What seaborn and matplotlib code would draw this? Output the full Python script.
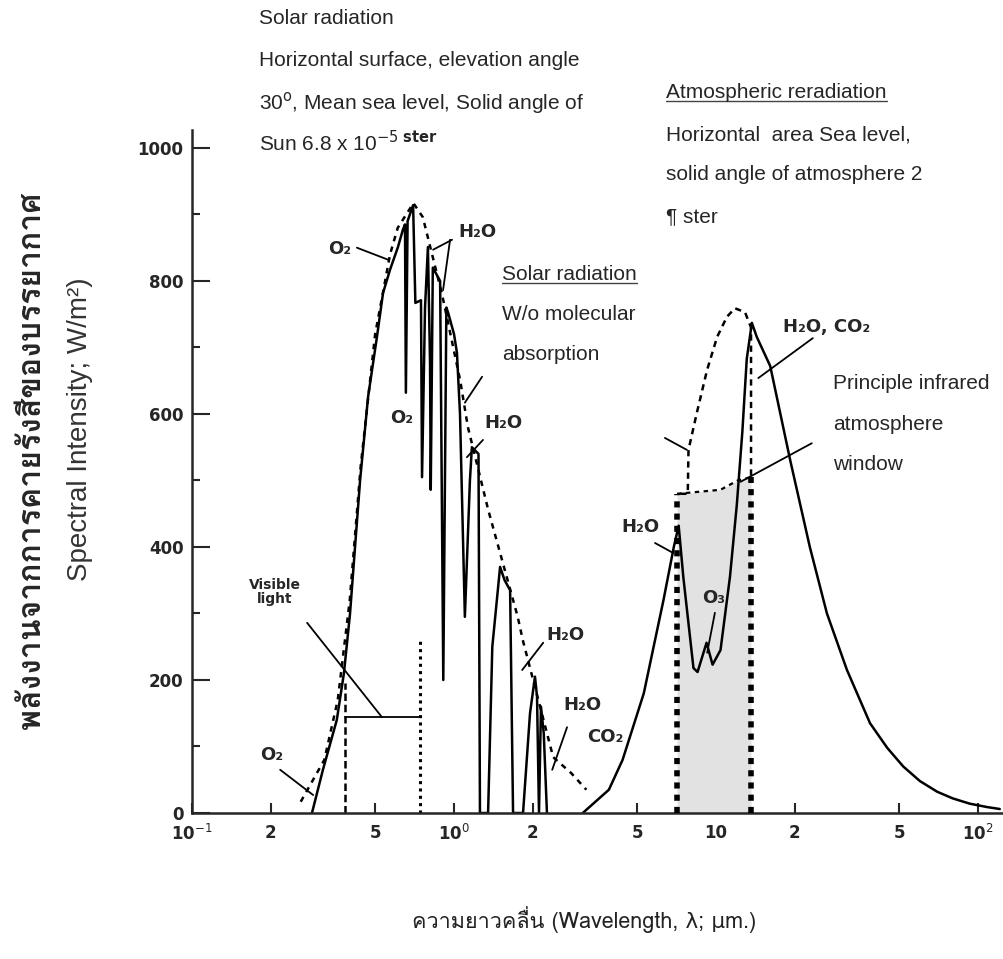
import matplotlib
matplotlib.use("Agg")
import matplotlib.pyplot as plt
import seaborn as sns
import pandas as pd
from matplotlib import font_manager, ft2font
from matplotlib.ticker import MultipleLocator, NullLocator
from matplotlib.lines import Line2D

# solar radiation reaching sea level (solid line), wavelength in um, W/m2
sun_wl = [0.287, 0.316, 0.357, 0.380, 0.401, 0.419, 0.438, 0.470, 0.508, 0.536,
          0.570, 0.611, 0.638, 0.650, 0.655, 0.665, 0.698, 0.712, 0.748, 0.755,
          0.775, 0.795, 0.81, 0.815, 0.83, 0.885, 0.91, 0.935, 0.95, 1.00,
          1.026, 1.054, 1.10, 1.15, 1.17, 1.24, 1.256, 1.349, 1.40, 1.499,
          1.56, 1.637, 1.68, 1.834, 1.95, 2.037, 2.074, 2.11, 2.147, 2.20, 2.263]
sun_val = [0, 65, 140, 210, 300, 400, 500, 626, 716, 782,
           817, 851, 877, 885, 632, 890, 914, 767, 771, 505,
           760, 851, 677, 486, 820, 800, 200, 760, 752, 720,
           692, 600, 295, 500, 550, 540, 0, 0, 250, 370,
           350, 335, 0, 0, 150, 205, 175, 0, 160, 120, 0]

# solar radiation without molecular absorption (dotted)
top_wl = [0.26, 0.32, 0.36, 0.40, 0.44, 0.50, 0.54, 0.57, 0.61, 0.70,
          0.76, 0.90, 1.055, 1.13, 1.35, 1.75, 1.83, 2.39, 2.8, 3.2]
top_val = [17, 80, 170, 320, 520, 720, 790, 840, 880, 917,
           896, 780, 651, 580, 456, 295, 260, 84, 60, 35]

# atmospheric reradiation (solid)
em_wl = [3.1, 3.9, 4.4, 5.3, 6.3, 6.9, 7.2, 7.5, 8.2, 8.5, 9.2, 9.7, 10.4, 11.3, 12.0,
         12.6, 13.1, 13.7, 14.3, 16.1, 19.2, 22.8, 26.5, 31.6, 38.7, 45, 51.8, 60,
         69.8, 80, 93, 108, 121]
em_val = [0, 35, 80, 180, 320, 400, 432, 355, 218, 212, 256, 223, 245, 355, 463,
          573, 683, 737, 716, 672, 530, 400, 300, 215, 135, 98, 70, 48,
          32, 22, 14, 9, 6]

# envelope without absorption (dashed)
env_wl = [7.3, 7.8, 7.85, 8.45, 9.24, 10.1, 11.0, 11.8, 12.9, 13.6, 13.6]
env_val = [480, 480, 546, 602, 666, 716, 746, 759, 753, 730, 505]

# infrared window
win_wl = [7.1, 10.4, 12.1, 13.6]
win_top = [480, 486, 500, 505]

# visible light band
vis_lo, vis_hi, vis_bar = 0.384, 0.741, 144
vis_lo_top, vis_hi_top = 195, 265

xticks = [0.1, 0.2, 0.5, 1, 2, 5, 10, 20, 50, 100]
xticklabels = ["10$^{-1}$", "2", "5", "10$^{0}$", "2", "5", "10", "2", "5", "10$^{2}$"]
yticks = [0, 200, 400, 600, 800, 1000]

chem_labels = [("O₂", 0.367, 848), ("H₂O", 1.225, 874), ("O₂", 0.634, 594),
               ("H₂O", 1.55, 586), ("H₂O", 2.67, 268), ("H₂O", 3.08, 162),
               ("CO₂", 3.77, 114), ("H₂O", 5.13, 430), ("O₃", 9.75, 323),
               ("O₂", 0.202, 87)]
leaders = [(0.426, 850, 0.560, 832), (0.983, 862, 0.832, 847), (0.966, 862, 0.908, 786),
           (1.28, 656, 1.10, 617), (1.29, 561, 1.12, 535), (2.19, 256, 1.82, 215),
           (2.70, 129, 2.37, 65), (5.85, 406, 6.86, 391), (9.9, 301, 9.25, 241),
           (23.4, 714, 14.5, 654), (23.2, 556, 12.4, 498), (6.38, 564, 7.74, 546),
           (0.275, 286, 0.531, 144), (0.217, 65, 0.29, 27)]

sns.set_theme(style="ticks")

# find a font that has Thai glyphs
thai = "DejaVu Sans"
for f in font_manager.fontManager.ttflist:
    if "CJK" in f.name:
        continue
    try:
        if 0x0E01 in ft2font.FT2Font(f.fname).get_charmap():
            thai = f.name
            break
    except Exception:
        pass

plt.rcParams["font.family"] = ["Liberation Sans", "DejaVu Sans"]
plt.rcParams["mathtext.fontset"] = "dejavusans"

fig = plt.figure(figsize=(10.04, 9.59), dpi=100)
ax = fig.add_axes([192 / 1004, 1 - 813 / 959, 1 - 192 / 1004, (813 - 130) / 959])

# shaded window
ax.fill_between(win_wl, 0, win_top, color="#e2e2e2", lw=0, zorder=1)
sns.lineplot(x=win_wl, y=win_top, ax=ax, color="black", lw=1.6, sort=False,
             estimator=None, zorder=3).lines[-1].set_linestyle((0, (2, 2)))
for w, t in [(win_wl[0], win_top[0]), (win_wl[-1], win_top[-1])]:
    ax.plot([w, w], [0, t], color="black", lw=4, ls=(0, (1.1, 1.1)), zorder=3)

sns.lineplot(x=sun_wl, y=sun_val, ax=ax, color="black", lw=1.8, sort=False, estimator=None)
l = sns.lineplot(x=top_wl, y=top_val, ax=ax, color="black", lw=1.8, sort=False, estimator=None).lines[-1]
l.set_linestyle((0, (2.2, 2.2)))
sns.lineplot(x=em_wl, y=em_val, ax=ax, color="black", lw=1.8, sort=False, estimator=None)
l = sns.lineplot(x=env_wl, y=env_val, ax=ax, color="black", lw=1.8, sort=False, estimator=None).lines[-1]
l.set_linestyle((0, (2.5, 2)))

# visible light bracket
ax.plot([vis_lo, vis_lo], [0, vis_lo_top], color="black", lw=1.8, ls=(0, (3, 1.5)))
ax.plot([vis_hi, vis_hi], [0, vis_hi_top], color="black", lw=2.2, ls=(0, (1, 1.4)))
ax.plot([vis_lo, vis_hi], [vis_bar, vis_bar], color="black", lw=1.3)

for x1, y1, x2, y2 in leaders:
    ax.annotate("", xy=(x2, y2), xytext=(x1, y1),
                arrowprops=dict(arrowstyle="-", color="black", lw=1.3, shrinkA=0, shrinkB=0))

for txt, x, y in chem_labels:
    ax.text(x, y, txt, ha="center", va="center", fontsize=13, fontweight="bold",
            family=["DejaVu Sans"])
ax.text(18.0, 731, "H₂O, CO₂", ha="left", va="center", fontsize=13, fontweight="bold",
        family=["DejaVu Sans"])
ax.text(0.2075, 333, "Visible\nlight", ha="center", va="center", fontsize=10,
        fontweight="bold", family=["DejaVu Sans"], linespacing=1.0)

ax.set_xscale("log")
ax.set_xlim(0.1, 125.6)
ax.set_ylim(0, 1027)
ax.set_xticks(xticks)
ax.set_xticklabels(xticklabels, fontsize=12, fontweight="bold", family=["DejaVu Sans"])
ax.xaxis.set_minor_locator(NullLocator())
ax.set_yticks(yticks)
ax.set_yticklabels([str(v) for v in yticks], fontsize=12, fontweight="bold", family=["DejaVu Sans"])
ax.yaxis.set_minor_locator(MultipleLocator(100))
ax.tick_params(axis="y", which="major", direction="in", length=13, width=1.5, pad=6)
ax.tick_params(axis="y", which="minor", direction="in", length=6, width=1.5)
ax.tick_params(axis="x", which="major", direction="in", length=7, width=1.5, pad=8)
for s in ["top", "right"]:
    ax.spines[s].set_visible(False)
for s in ["left", "bottom"]:
    ax.spines[s].set_linewidth(1.8)
ax.set_xlabel("")
ax.set_ylabel("")
ax.patch.set_alpha(0)


def ftext(px, py, s, **kw):
    return fig.text(px / 1004, 1 - py / 959, s, va="center", **kw)


fs = 15
ftext(259, 18, "Solar radiation", fontsize=fs)
ftext(259, 60, "Horizontal surface, elevation angle", fontsize=fs)
ftext(259, 103, "30$^{\\mathrm{o}}$, Mean sea level, Solid angle of", fontsize=fs)
ftext(259, 143, "Sun 6.8 x 10$^{-5\\ \\mathbf{ster}}$", fontsize=fs)
under = [ftext(666, 92, "Atmospheric reradiation", fontsize=fs)]
ftext(666, 135, "Horizontal  area Sea level,", fontsize=fs)
ftext(666, 175, "solid angle of atmosphere 2", fontsize=fs)
ftext(666, 217, "¶ ster", fontsize=fs)
under.append(ftext(502, 274, "Solar radiation", fontsize=fs))
ftext(502, 314, "W/o molecular", fontsize=fs)
ftext(502, 355, "absorption", fontsize=fs)
ftext(833, 383, "Principle infrared", fontsize=fs)
ftext(833, 425, "atmosphere", fontsize=fs)
ftext(833, 465, "window", fontsize=fs)

fig.text(32 / 1004, 1 - 460 / 959, "พลังงานจากการคายรังสีของบรรยากาศ", rotation=90,
         ha="center", va="center", fontsize=23, fontweight="bold", family=[thai, "DejaVu Sans"])
fig.text(80 / 1004, 1 - 429 / 959, "Spectral Intensity; W/m²)", rotation=90,
         ha="center", va="center", fontsize=20, color="#333333")
fig.text(584 / 1004, 1 - 920 / 959, "ความยาวคลื่น (Wavelength, λ; μm.)",
         ha="center", va="center", fontsize=15.5, color="#222222", family=[thai, "DejaVu Sans"])

# underline the two headings
r = fig.canvas.get_renderer()
for t in under:
    bb = t.get_window_extent(r).transformed(fig.transFigure.inverted())
    fig.add_artist(Line2D([bb.x0, bb.x1], [bb.y0 + 0.001, bb.y0 + 0.001],
                          transform=fig.transFigure, color="#444444", lw=1))

fig.savefig("out.png", dpi=100)
